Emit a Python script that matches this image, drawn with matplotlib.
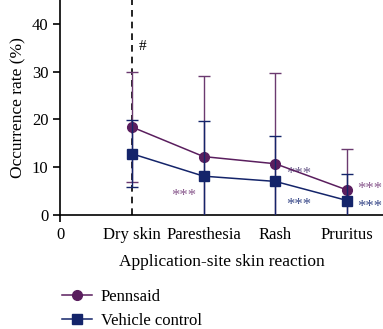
import numpy as np
import matplotlib
matplotlib.use("Agg")
import matplotlib.pyplot as plt
from matplotlib.lines import Line2D

plt.rcParams['font.family'] = ['Liberation Serif', 'DejaVu Serif']

# data
categories = ['Dry skin', 'Paresthesia', 'Rash', 'Pruritus']
pennsaid_mean = [18.4, 12.2, 10.7, 5.2]
pennsaid_sd = [11.6, 16.9, 19.1, 8.5]
vehicle_mean = [12.8, 8.1, 7.0, 3.0]
vehicle_sd = [7.0, 11.6, 9.5, 5.5]

purple = '#5a1e5e'
purple_err = '#6b3a70'
navy = '#14246a'

fig = plt.figure(figsize=(3.83, 3.29), dpi=100)
ax = fig.add_axes([0.157, 0.347, 0.843, 0.653])

x = np.arange(1, len(categories) + 1)

ax.axvline(1, color='black', ls=(0, (4, 3)), lw=1.2, zorder=1)

ax.errorbar(x, pennsaid_mean, yerr=pennsaid_sd, color=purple, ecolor=purple_err,
            marker='o', ms=7, lw=1.1, elinewidth=1.0, capsize=4.5, capthick=1.0,
            zorder=3)
ax.errorbar(x, vehicle_mean, yerr=vehicle_sd, color=navy, ecolor=navy,
            marker='s', ms=7, lw=1.1, elinewidth=1.0, capsize=4.5, capthick=1.0,
            zorder=4)

# significance marks
ax.text(1.1, 35.3, '#', fontsize=11, color='black', va='center')
ax.text(1.72, 3.9, '***', fontsize=12, color='#8a5a8e', ha='center', va='center')
ax.text(3.33, 8.6, '***', fontsize=12, color='#6a5a8a', ha='center', va='center')
ax.text(3.33, 2.0, '***', fontsize=12, color='#3a4a8a', ha='center', va='center')
ax.text(4.32, 5.4, '***', fontsize=12, color='#8a5a8e', ha='center', va='center')
ax.text(4.32, 1.7, '***', fontsize=12, color='#3a4a8a', ha='center', va='center')

ax.set_xlim(0, 4.5)
ax.set_ylim(0, 45)
ax.set_yticks([0, 10, 20, 30, 40])
ax.set_xticks([0] + list(x))
ax.set_xticklabels(['0'] + categories)
for t in ax.xaxis.get_major_ticks()[1:]:
    t.tick1line.set_visible(False)
ax.tick_params(labelsize=12, width=1.2, length=5, direction='out')

ax.spines['top'].set_visible(False)
ax.spines['right'].set_visible(False)
ax.spines['left'].set_linewidth(1.2)
ax.spines['bottom'].set_linewidth(1.2)

ax.set_ylabel('Occurrence rate (%)', fontsize=12.5, labelpad=4)
ax.set_xlabel('Application-site skin reaction', fontsize=12.5, labelpad=8)

handles = [Line2D([], [], color=purple, marker='o', ms=7, lw=1.1),
           Line2D([], [], color=navy, marker='s', ms=7, lw=1.1)]
ax.legend(handles, ['Pennsaid', 'Vehicle control'], loc='upper left',
          bbox_to_anchor=(-0.04, -0.275), frameon=False, fontsize=12,
          handlelength=1.8, handletextpad=0.5, labelspacing=0.5)

fig.savefig('out.png', dpi=100)
